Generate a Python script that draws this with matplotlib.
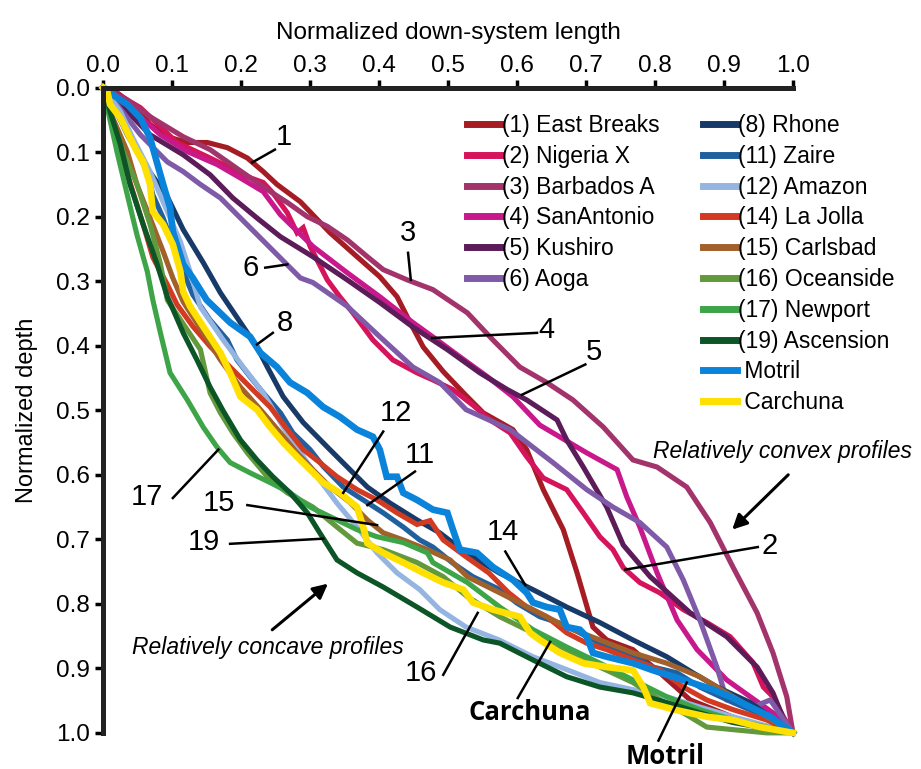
import matplotlib
matplotlib.use('Agg')
import matplotlib.pyplot as plt
from matplotlib.lines import Line2D

plt.rcParams['font.family'] = ['Liberation Sans', 'DejaVu Sans']

# normalized profiles (x = down-system length, y = depth)
names = ['(1) East Breaks', '(2) Nigeria X', '(3) Barbados A', '(4) SanAntonio', '(5) Kushiro', '(6) Aoga',
         '(8) Rhone', '(11) Zaire', '(12) Amazon', '(14) La Jolla', '(15) Carlsbad', '(16) Oceanside',
         '(17) Newport', '(19) Ascension', ' Motril', ' Carchuna']
colors = ['#a51c24', '#d6145c', '#a3336b', '#c8188c', '#5c1c5a', '#7e5aa8',
          '#173a68', '#21609e', '#94b5e2', '#d23a22', '#a0612b', '#63993d',
          '#3da547', '#0b5527', '#0a84db', '#ffe000']

east_x = [0, 0.014, 0.043, 0.068, 0.093, 0.122, 0.151, 0.180, 0.209, 0.232, 0.252, 0.286, 0.329, 0.368, 0.401, 0.426,
          0.445, 0.464, 0.493, 0.525, 0.551, 0.594, 0.614, 0.638, 0.667, 0.687, 0.710, 0.730, 0.768, 0.807, 0.851, 0.923, 1.0]
east_y = [0, 0.003, 0.026, 0.057, 0.076, 0.085, 0.085, 0.093, 0.109, 0.130, 0.150, 0.177, 0.225, 0.262, 0.293, 0.324,
          0.364, 0.402, 0.440, 0.476, 0.504, 0.530, 0.561, 0.623, 0.685, 0.752, 0.836, 0.856, 0.871, 0.907, 0.949, 0.980, 1.0]

nig_x = [0, 0.014, 0.054, 0.107, 0.151, 0.180, 0.209, 0.232, 0.246, 0.267, 0.281, 0.290, 0.300, 0.325, 0.343, 0.362, 0.391,
         0.420, 0.455, 0.478, 0.507, 0.536, 0.561, 0.590, 0.614, 0.638, 0.672, 0.696, 0.720, 0.739, 0.754, 0.778, 0.807,
         0.841, 0.875, 0.909, 0.942, 0.957, 0.971, 0.986, 1.0]
nig_y = [0, 0.006, 0.031, 0.085, 0.107, 0.122, 0.138, 0.147, 0.163, 0.194, 0.225, 0.217, 0.246, 0.298, 0.324, 0.349, 0.391,
         0.422, 0.442, 0.453, 0.468, 0.492, 0.515, 0.535, 0.572, 0.605, 0.623, 0.659, 0.696, 0.716, 0.744, 0.767, 0.783,
         0.809, 0.829, 0.851, 0.891, 0.929, 0.944, 0.975, 1.0]

barb_x = [0, 0.035, 0.068, 0.116, 0.155, 0.203, 0.238, 0.267, 0.296, 0.325, 0.354, 0.383, 0.406, 0.441, 0.478, 0.528,
          0.565, 0.604, 0.643, 0.681, 0.725, 0.768, 0.803, 0.846, 0.880, 0.913, 0.948, 0.971, 0.991, 1.0]
barb_y = [0, 0.019, 0.045, 0.076, 0.096, 0.132, 0.158, 0.178, 0.200, 0.215, 0.236, 0.262, 0.282, 0.298, 0.313, 0.349,
          0.391, 0.433, 0.457, 0.484, 0.526, 0.577, 0.588, 0.619, 0.674, 0.743, 0.814, 0.876, 0.944, 1.0]

sana_x = [0, 0.039, 0.083, 0.122, 0.165, 0.199, 0.232, 0.257, 0.304, 0.354, 0.401, 0.449, 0.484, 0.517, 0.557, 0.594,
          0.633, 0.701, 0.745, 0.759, 0.778, 0.803, 0.832, 0.861, 0.904, 0.938, 0.971, 1.0]
sana_y = [0, 0.031, 0.073, 0.099, 0.119, 0.140, 0.161, 0.197, 0.246, 0.287, 0.324, 0.364, 0.391, 0.417, 0.448, 0.479,
          0.523, 0.566, 0.592, 0.634, 0.681, 0.752, 0.825, 0.871, 0.918, 0.944, 0.969, 1.0]

kush_x = [0, 0.025, 0.068, 0.116, 0.155, 0.188, 0.223, 0.257, 0.304, 0.354, 0.401, 0.449, 0.499, 0.546, 0.586, 0.614,
          0.658, 0.672, 0.696, 0.730, 0.754, 0.793, 0.851, 0.904, 0.948, 0.971, 0.991, 1.0]
kush_y = [0, 0.026, 0.073, 0.104, 0.135, 0.171, 0.202, 0.231, 0.262, 0.298, 0.333, 0.371, 0.406, 0.442, 0.468, 0.484,
          0.515, 0.546, 0.588, 0.650, 0.709, 0.758, 0.814, 0.851, 0.898, 0.938, 0.991, 1.0]

aoga_x = [0, 0.020, 0.054, 0.093, 0.116, 0.141, 0.170, 0.199, 0.228, 0.257, 0.286, 0.304, 0.354, 0.401, 0.449, 0.488,
          0.526, 0.590, 0.652, 0.701, 0.739, 0.778, 0.817, 0.841, 0.865, 0.890, 0.904, 0.942, 0.967, 1.0]
aoga_y = [0, 0.026, 0.073, 0.115, 0.130, 0.150, 0.171, 0.202, 0.233, 0.264, 0.295, 0.302, 0.339, 0.386, 0.433, 0.457,
          0.499, 0.530, 0.581, 0.623, 0.650, 0.674, 0.712, 0.763, 0.825, 0.899, 0.949, 0.960, 0.949, 1.0]

rhone_x = [0, 0.025, 0.058, 0.093, 0.116, 0.145, 0.170, 0.199, 0.223, 0.238, 0.261, 0.290, 0.325, 0.354, 0.383, 0.416,
           0.455, 0.488, 0.526, 0.574, 0.623, 0.672, 0.720, 0.768, 0.817, 0.855, 0.890, 0.938, 1.0]
rhone_y = [0, 0.047, 0.116, 0.169, 0.220, 0.271, 0.318, 0.364, 0.402, 0.433, 0.479, 0.519, 0.557, 0.588, 0.619, 0.644,
           0.670, 0.690, 0.721, 0.752, 0.778, 0.805, 0.829, 0.856, 0.882, 0.907, 0.929, 0.953, 1.0]

zaire_x = [0, 0.014, 0.035, 0.049, 0.064, 0.072, 0.087, 0.101, 0.116, 0.130, 0.155, 0.180, 0.194, 0.213, 0.232, 0.257,
           0.275, 0.300, 0.319, 0.348, 0.377, 0.406, 0.435, 0.459, 0.478, 0.507, 0.536, 0.575, 0.600, 0.633, 0.662,
           0.691, 0.720, 0.759, 0.797, 0.832, 0.865, 0.913, 0.962, 1.0]
zaire_y = [0, 0.026, 0.073, 0.099, 0.130, 0.166, 0.202, 0.243, 0.285, 0.321, 0.360, 0.391, 0.422, 0.448, 0.473, 0.504,
           0.535, 0.561, 0.587, 0.619, 0.639, 0.659, 0.681, 0.701, 0.712, 0.737, 0.758, 0.778, 0.799, 0.820, 0.830,
           0.845, 0.861, 0.876, 0.898, 0.907, 0.929, 0.953, 0.975, 1.0]

amaz_x = [0, 0.025, 0.043, 0.068, 0.093, 0.112, 0.126, 0.141, 0.174, 0.203, 0.232, 0.261, 0.290, 0.314, 0.339, 0.368,
          0.397, 0.426, 0.459, 0.488, 0.526, 0.574, 0.623, 0.672, 0.720, 0.768, 0.817, 0.865, 0.913, 1.0]
amaz_y = [0, 0.037, 0.078, 0.130, 0.192, 0.239, 0.285, 0.340, 0.391, 0.433, 0.473, 0.526, 0.572, 0.608, 0.644, 0.681,
          0.721, 0.752, 0.778, 0.809, 0.836, 0.856, 0.882, 0.902, 0.922, 0.933, 0.944, 0.960, 0.975, 1.0]

jolla_x = [0, 0.010, 0.025, 0.043, 0.058, 0.072, 0.093, 0.107, 0.130, 0.155, 0.184, 0.213, 0.242, 0.267, 0.290, 0.314,
           0.339, 0.368, 0.397, 0.426, 0.455, 0.474, 0.493, 0.526, 0.559, 0.588, 0.614, 0.643, 0.672, 0.701, 0.730,
           0.768, 0.807, 0.841, 0.875, 0.913, 0.962, 1.0]
jolla_y = [0, 0.037, 0.099, 0.161, 0.212, 0.263, 0.305, 0.336, 0.370, 0.401, 0.433, 0.464, 0.495, 0.530, 0.561, 0.581,
           0.603, 0.623, 0.639, 0.659, 0.677, 0.671, 0.701, 0.727, 0.752, 0.783, 0.805, 0.820, 0.845, 0.861, 0.871,
           0.887, 0.902, 0.929, 0.949, 0.964, 0.980, 1.0]

carl_x = [0, 0.014, 0.035, 0.049, 0.068, 0.087, 0.101, 0.116, 0.145, 0.170, 0.199, 0.228, 0.257, 0.281, 0.304, 0.329,
          0.358, 0.383, 0.406, 0.435, 0.470, 0.503, 0.528, 0.575, 0.623, 0.672, 0.720, 0.768, 0.817, 0.865, 0.913, 0.962, 1.0]
carl_y = [0, 0.047, 0.099, 0.150, 0.202, 0.254, 0.295, 0.332, 0.380, 0.422, 0.464, 0.499, 0.535, 0.566, 0.592, 0.619,
          0.643, 0.670, 0.690, 0.701, 0.716, 0.732, 0.758, 0.783, 0.809, 0.836, 0.856, 0.876, 0.892, 0.913, 0.944, 0.975, 1.0]

ocean_x = [0, 0.010, 0.029, 0.049, 0.068, 0.083, 0.093, 0.141, 0.155, 0.170, 0.188, 0.209, 0.238, 0.267, 0.304, 0.339,
           0.368, 0.406, 0.455, 0.493, 0.528, 0.575, 0.623, 0.672, 0.720, 0.768, 0.807, 0.841, 0.875, 0.913, 0.962, 1.0]
ocean_y = [0, 0.042, 0.099, 0.150, 0.212, 0.273, 0.329, 0.406, 0.473, 0.504, 0.535, 0.566, 0.603, 0.628, 0.650, 0.681,
           0.706, 0.716, 0.736, 0.758, 0.789, 0.820, 0.845, 0.871, 0.898, 0.922, 0.949, 0.969, 0.991, 0.995, 1.0, 1.0]

newp_x = [0, 0.006, 0.020, 0.035, 0.049, 0.064, 0.072, 0.083, 0.097, 0.122, 0.145, 0.165, 0.184, 0.213, 0.242, 0.271,
          0.300, 0.339, 0.368, 0.397, 0.435, 0.470, 0.478, 0.528, 0.575, 0.623, 0.672, 0.720, 0.768, 0.817, 0.865, 0.913, 1.0]
newp_y = [0, 0.031, 0.099, 0.166, 0.228, 0.285, 0.329, 0.380, 0.442, 0.484, 0.526, 0.557, 0.581, 0.597, 0.612, 0.628,
          0.650, 0.670, 0.685, 0.696, 0.705, 0.721, 0.736, 0.767, 0.805, 0.840, 0.867, 0.892, 0.918, 0.944, 0.964, 0.980, 1.0]

asc_x = [0, 0.010, 0.025, 0.039, 0.058, 0.078, 0.093, 0.101, 0.116, 0.136, 0.155, 0.174, 0.199, 0.223, 0.246, 0.271,
         0.296, 0.314, 0.339, 0.368, 0.406, 0.455, 0.503, 0.551, 0.575, 0.623, 0.672, 0.720, 0.768, 0.817, 0.865, 0.913, 1.0]
asc_y = [0, 0.037, 0.088, 0.150, 0.212, 0.273, 0.324, 0.343, 0.380, 0.422, 0.464, 0.501, 0.546, 0.577, 0.603, 0.628,
         0.659, 0.690, 0.732, 0.752, 0.774, 0.805, 0.836, 0.856, 0.861, 0.887, 0.913, 0.929, 0.938, 0.953, 0.969, 0.984, 1.0]

motril_x = [0, 0.014, 0.035, 0.054, 0.068, 0.078, 0.087, 0.097, 0.101, 0.116, 0.130, 0.150, 0.184, 0.213, 0.228, 0.252,
            0.271, 0.296, 0.319, 0.343, 0.368, 0.391, 0.401, 0.411, 0.426, 0.435, 0.455, 0.478, 0.499, 0.507, 0.517,
            0.542, 0.565, 0.594, 0.614, 0.623, 0.643, 0.662, 0.672, 0.691, 0.701, 0.710, 0.730, 0.768, 0.797, 0.841,
            0.884, 0.909, 0.938, 0.967, 1.0]
motril_y = [0, 0.011, 0.026, 0.047, 0.078, 0.116, 0.150, 0.186, 0.223, 0.274, 0.295, 0.329, 0.364, 0.386, 0.411, 0.433,
            0.457, 0.473, 0.495, 0.510, 0.530, 0.541, 0.561, 0.603, 0.603, 0.628, 0.639, 0.654, 0.659, 0.685, 0.716,
            0.721, 0.743, 0.763, 0.783, 0.798, 0.805, 0.809, 0.836, 0.840, 0.851, 0.876, 0.882, 0.892, 0.903, 0.918,
            0.933, 0.944, 0.960, 0.975, 1.0]

carch_x = [0, 0.006, 0.010, 0.025, 0.039, 0.049, 0.058, 0.068, 0.072, 0.087, 0.101, 0.112, 0.116, 0.126, 0.151, 0.170,
           0.184, 0.199, 0.223, 0.242, 0.261, 0.281, 0.300, 0.319, 0.343, 0.368, 0.377, 0.383, 0.406, 0.435, 0.464,
           0.493, 0.522, 0.536, 0.565, 0.604, 0.619, 0.633, 0.662, 0.696, 0.730, 0.768, 0.783, 0.793, 0.832, 0.875,
           0.913, 0.952, 1.0]
carch_y = [0, 0.006, 0.026, 0.047, 0.078, 0.099, 0.115, 0.150, 0.192, 0.212, 0.243, 0.285, 0.316, 0.339, 0.380, 0.411,
           0.442, 0.479, 0.499, 0.526, 0.550, 0.572, 0.592, 0.612, 0.628, 0.650, 0.681, 0.706, 0.721, 0.736, 0.752,
           0.767, 0.778, 0.798, 0.809, 0.820, 0.845, 0.856, 0.876, 0.892, 0.898, 0.903, 0.929, 0.954, 0.965, 0.975,
           0.980, 0.991, 1.0]

series = [(east_x, east_y), (nig_x, nig_y), (barb_x, barb_y), (sana_x, sana_y), (kush_x, kush_y), (aoga_x, aoga_y),
          (rhone_x, rhone_y), (zaire_x, zaire_y), (amaz_x, amaz_y), (jolla_x, jolla_y), (carl_x, carl_y),
          (ocean_x, ocean_y), (newp_x, newp_y), (asc_x, asc_y), (motril_x, motril_y), (carch_x, carch_y)]

# number labels: text, text position, leader start, leader end
labels = [('1', (0.262, 0.076), (0.216, 0.116), (0.249, 0.096)),
          ('3', (0.442, 0.226), (0.442, 0.256), (0.446, 0.298)),
          ('6', (0.214, 0.279), (0.235, 0.279), (0.267, 0.274)),
          ('4', (0.643, 0.375), (0.477, 0.388), (0.629, 0.380)),
          ('5', (0.712, 0.409), (0.607, 0.476), (0.699, 0.429)),
          ('8', (0.263, 0.365), (0.223, 0.398), (0.246, 0.380)),
          ('12', (0.425, 0.505), (0.348, 0.628), (0.406, 0.533)),
          ('11', (0.459, 0.570), (0.383, 0.647), (0.452, 0.595)),
          ('15', (0.168, 0.643), (0.209, 0.647), (0.397, 0.678)),
          ('19', (0.146, 0.704), (0.184, 0.707), (0.319, 0.699)),
          ('17', (0.063, 0.634), (0.101, 0.636), (0.167, 0.561)),
          ('14', (0.580, 0.688), (0.583, 0.719), (0.612, 0.771)),
          ('2', (0.966, 0.710), (0.757, 0.747), (0.949, 0.712)),
          ('16', (0.460, 0.907), (0.493, 0.910), (0.543, 0.814))]

fig = plt.figure(figsize=(9.21, 7.69), dpi=100)
ax = fig.add_axes([0.112, 0.047, 0.749, 0.839])

handles = []
for (xs, ys), name, c in zip(series, names, colors):
    lw = 4.8 if name.strip() in ('Motril', 'Carchuna') else 3.7
    ax.plot(xs, ys, color=c, lw=lw, solid_joinstyle='miter', clip_on=False)
    handles.append(Line2D([], [], color=c, lw=5))

for txt, pos, p0, p1 in labels:
    ax.text(*pos, txt, fontsize=21, ha='center', va='center')
    ax.plot([p0[0], p1[0]], [p0[1], p1[1]], color='black', lw=1.8)

bold = ['Open Sans', 'DejaVu Sans']
ax.plot([0.601, 0.648], [0.946, 0.859], color='black', lw=1.8)
ax.text(0.619, 0.969, 'Carchuna', family=bold, fontweight='bold', fontsize=18.5, ha='center', va='center')
ax.plot([0.805, 0.846], [1.012, 0.922], color='black', lw=1.8, clip_on=False)
ax.text(0.815, 1.036, 'Motril', family=bold, fontweight='bold', fontsize=18.5,
        ha='center', va='center', clip_on=False)

ax.text(0.797, 0.564, 'Relatively convex profiles', style='italic', fontsize=16.5, ha='left', va='center',
        clip_on=False)
ax.annotate('', xy=(0.909, 0.688), xytext=(0.996, 0.597),
            arrowprops=dict(arrowstyle='-|>', color='black', lw=2.2, mutation_scale=22))
ax.text(0.042, 0.868, 'Relatively concave profiles', style='italic', fontsize=16.5, ha='left', va='center')
ax.annotate('', xy=(0.329, 0.766), xytext=(0.242, 0.843),
            arrowprops=dict(arrowstyle='-|>', color='black', lw=2.2, mutation_scale=22))

leg_kw = dict(frameon=False, fontsize=16.5, handlelength=1.5, handletextpad=0.05, labelspacing=0.34,
              borderpad=0, borderaxespad=0, loc='upper left')
leg1 = ax.legend(handles[:6], names[:6], bbox_to_anchor=(0.527, 0.959), **leg_kw)
ax.add_artist(leg1)
ax.legend(handles[6:], names[6:], bbox_to_anchor=(0.869, 0.959), **leg_kw)

ax.set_xlim(0, 1)
ax.set_ylim(1, 0)
ax.set_xticks([i / 10 for i in range(11)])
ax.set_yticks([i / 10 for i in range(11)])
ax.xaxis.tick_top()
ax.xaxis.set_label_position('top')
ax.set_xlabel('Normalized down-system length', fontsize=17.5, labelpad=12)
ax.set_ylabel('Normalized depth', fontsize=17, labelpad=13)
ax.tick_params(axis='both', direction='out', length=5.5, width=2.5, labelsize=17.5)
ax.tick_params(axis='x', pad=2)
ax.tick_params(axis='y', pad=4)
for s in ('bottom', 'right'):
    ax.spines[s].set_visible(False)
for s in ('top', 'left'):
    ax.spines[s].set_linewidth(3.6)
    ax.spines[s].set_color('#222222')

fig.savefig('out.png', dpi=100)
